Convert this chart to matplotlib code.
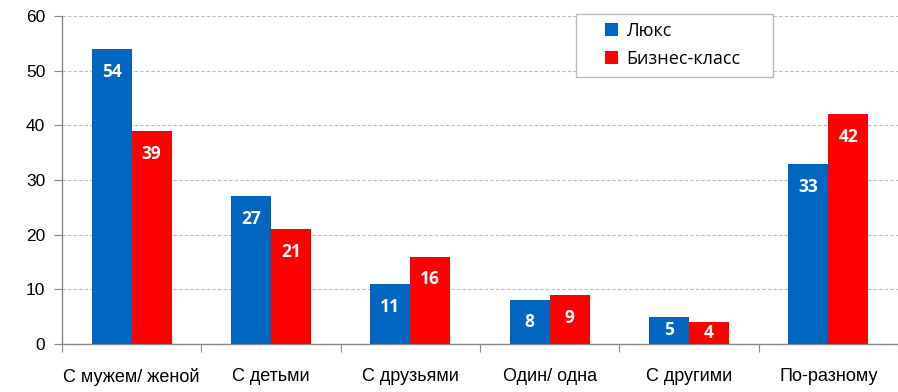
import matplotlib
matplotlib.use("Agg")
import matplotlib.pyplot as plt
import numpy as np
from matplotlib.patches import Rectangle

categories = ["С мужем/ женой", "С детьми", "С друзьями", "Один/ одна", "С другими", "По-разному"]
lux = [54, 27, 11, 8, 5, 33]
business = [39, 21, 16, 9, 4, 42]
series_names = ["Люкс", "Бизнес-класс"]
yticks = [0, 10, 20, 30, 40, 50, 60]

blue = "#0066BF"
red = "#FF0000"

W, H = 898, 392
fig = plt.figure(figsize=(8.98, 3.92), dpi=100)
ax = fig.add_axes([62/W, 1-344/H, 1-62/W, (344-16)/H])

x = np.arange(len(categories))
w = 0.287
b1 = ax.bar(x - w/2, lux, w, color=blue, label=series_names[0], zorder=3)
b2 = ax.bar(x + w/2, business, w, color=red, label=series_names[1], zorder=3)

for bars, vals in ((b1, lux), (b2, business)):
    for r, v in zip(bars, vals):
        yy = max(v - 4.2, v / 2)
        ax.text(r.get_x() + r.get_width()/2, yy, str(v), ha="center", va="center",
                color="white", fontsize=12.5, fontweight="bold", family="Open Sans", zorder=4)

ax.set_xlim(-0.5, len(categories) - 0.5)
ax.set_ylim(0, 60)
ax.set_yticks(yticks)
ax.set_yticklabels([str(t) for t in yticks], fontsize=12.5, family="Liberation Sans")
ax.yaxis.grid(True, color="#BBBBBB", linestyle=(0, (3, 2)), linewidth=0.8, zorder=0)
ax.set_axisbelow(True)

ax.set_xticks(np.arange(-0.5, len(categories) - 0.4, 1))
ax.set_xticklabels([])
ax.set_xticks(x, minor=True)
ax.set_xticklabels(categories, minor=True, fontsize=13, family="Liberation Sans")
ax.tick_params(axis="x", which="minor", length=0, pad=17)
ax.tick_params(axis="x", which="major", length=6, color="#888888", direction="out")
ax.tick_params(axis="y", length=6, color="#888888", direction="out", pad=6)

for s in ("top", "right"):
    ax.spines[s].set_visible(False)
for s in ("left", "bottom"):
    ax.spines[s].set_color("#888888")
    ax.spines[s].set_linewidth(1)

# legend frame (figure pixels)
fig.patches.append(Rectangle((576/W, 1-77/H), (773-576)/W, (77-14)/H,
                             transform=fig.transFigure, facecolor="white",
                             edgecolor="#BBBBBB", linewidth=1, zorder=5))
leg = fig.legend(handles=[b1, b2], labels=series_names, loc="upper left",
                 bbox_to_anchor=(605/W, 1-22/H), frameon=False,
                 prop={"family": "Open Sans", "size": 13},
                 handlelength=0.7, handleheight=0.7, labelspacing=0.55,
                 borderpad=0, handletextpad=0.45, borderaxespad=0)
leg.set_zorder(6)

fig.savefig("out.png", dpi=100)
